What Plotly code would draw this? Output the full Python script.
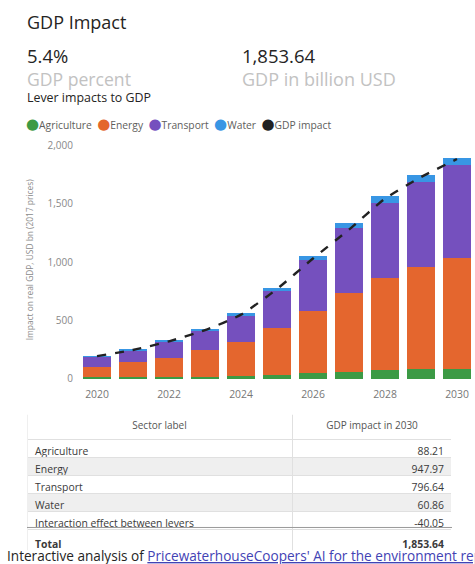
import plotly.graph_objects as go

# ---------------- data ----------------
years = [2020, 2021, 2022, 2023, 2024, 2025, 2026, 2027, 2028, 2029, 2030]
agriculture = [14, 16, 18, 20, 23, 32, 52, 62, 73, 82, 88.21]
energy = [92, 132, 165, 228, 292, 401, 528, 672, 790, 880, 947.97]
transport = [86, 98, 138, 168, 225, 324, 435, 557, 648, 723, 796.64]
water = [5, 10, 11, 14, 22, 25, 38, 42, 55, 60, 60.86]
gdp_impact = [195, 248, 322, 418, 551, 771, 1032, 1280, 1545, 1730, 1885]

kpi_percent = "5.4%"
kpi_total = 1853.64

table_sectors = ["Agriculture", "Energy", "Transport", "Water",
                 "Interaction effect between levers", "Total"]
table_values = [88.21, 947.97, 796.64, 60.86, -40.05, 1853.64]

# ---------------- style ----------------
W, H = 475, 564
FONT = "Open Sans, Noto Sans, DejaVu Sans, sans-serif"
C_AGR, C_ENE, C_TRA, C_WAT, C_GDP = "#3C9A45", "#E4662E", "#7550BE", "#3896E4", "#222222"


def px(x):
    return x / W


def py(y):
    return 1 - y / H


fig = go.Figure()
for name, vals, col in [("Agriculture", agriculture, C_AGR),
                        ("Energy", energy, C_ENE),
                        ("Transport", transport, C_TRA),
                        ("Water", water, C_WAT)]:
    fig.add_trace(go.Bar(x=years, y=vals, name=name, marker=dict(color=col, line=dict(width=0)),
                         width=0.8, showlegend=False))

fig.add_trace(go.Scatter(x=years, y=gdp_impact, name="GDP impact", mode="lines",
                         line=dict(color=C_GDP, width=2.4, dash="dash", shape="spline", smoothing=0.6),
                         showlegend=False))

# table
TOP, HEAD_H, ROW_H = 418, 26, 18
fills = ["#ffffff", "#efefef", "#ffffff", "#efefef", "#ffffff", "#ffffff"]
labels = [f"<b>{s}</b>" if s == "Total" else s for s in table_sectors]
vals_txt = [f"<b>{v:,.2f}</b>" if s == "Total" else f"{v:,.2f}" for s, v in zip(table_sectors, table_values)]
fig.add_trace(go.Table(
    domain=dict(x=[px(27), px(452)], y=[py(TOP + HEAD_H + ROW_H * 6 + 6), py(TOP)]),
    columnwidth=[265, 160],
    header=dict(values=["Sector label", "GDP impact in 2030"], height=HEAD_H,
                align="center", fill=dict(color="#ffffff"),
                line=dict(color="#e0e0e0", width=1),
                font=dict(family=FONT, size=10, color="#555555")),
    cells=dict(values=[labels, vals_txt], height=ROW_H,
               align=["left", "right"],
               fill=dict(color=[fills, fills]),
               line=dict(color="#e0e0e0", width=1),
               font=dict(family=FONT, size=10.4, color="#3a3a3a")),
))

shapes = [
    # hide the outer frame of the table (reference shows only inner rules)
    dict(type="line", xref="paper", yref="paper", x0=px(26), x1=px(26), y0=py(TOP - 2), y1=py(562),
         line=dict(color="#ffffff", width=3), layer="above"),
    dict(type="line", xref="paper", yref="paper", x0=px(452.5), x1=px(452.5), y0=py(TOP - 2), y1=py(562),
         line=dict(color="#ffffff", width=3), layer="above"),
    dict(type="line", xref="paper", yref="paper", x0=px(24), x1=px(455), y0=py(TOP), y1=py(TOP),
         line=dict(color="#ffffff", width=3), layer="above"),
    # darker rule above the Total row
    dict(type="line", xref="paper", yref="paper", x0=px(27), x1=px(452),
         y0=py(TOP + HEAD_H + ROW_H * 5), y1=py(TOP + HEAD_H + ROW_H * 5),
         line=dict(color="#9a9a9a", width=1), layer="above"),
]

ann = []


def text(x, y, s, size, color, anchor="left", yanchor="middle", **kw):
    ann.append(dict(x=px(x), y=py(y), xref="paper", yref="paper", text=s, showarrow=False,
                    xanchor=anchor, yanchor=yanchor, borderpad=0,
                    font=dict(family=FONT, size=size, color=color), **kw))


text(26, 20, "GDP Impact", 18, "#252423")
text(26, 54, kpi_percent, 18.5, "#252423")
text(241, 54, f"{kpi_total:,.2f}", 18.5, "#252423")
text(26, 78, "GDP percent", 17.6, "#c2c2c2")
text(241, 78, "GDP in billion USD", 18, "#c2c2c2")
text(26, 97, "Lever impacts to GDP", 12.4, "#252423")

dot = '<span style="color:{c};font-size:15px">●</span>'
legend_txt = "".join(dot.format(c=c) + n + "  " for n, c in
                     [("Agriculture", C_AGR), ("Energy", C_ENE), ("Transport", C_TRA),
                      ("Water", C_WAT), ("GDP impact", C_GDP)])
text(25, 123, legend_txt.strip(), 10.3, "#605e5c")

ann.append(dict(x=px(29), y=(py(140) + py(383)) / 2, xref="paper", yref="paper",
                text="Impact on real GDP, USD bn (2017 prices)", textangle=-90, showarrow=False,
                xanchor="center", yanchor="middle", font=dict(family=FONT, size=8.4, color="#8a8a8a")))

text(6, 564, 'Interactive analysis of <span style="color:#4242b4;text-decoration:underline">'
             "PricewaterhouseCoopers' AI for the environment report</span>", 13.6, "#252423",
     yanchor="bottom", yshift=-9)

fig.update_layout(
    width=W, height=H, margin=dict(l=0, r=0, t=0, b=0),
    paper_bgcolor="#ffffff", plot_bgcolor="#ffffff",
    barmode="stack", bargap=0.2,
    font=dict(family=FONT),
    annotations=ann, shapes=shapes,
    xaxis=dict(domain=[px(79), 1], range=[2019.5, 2030.5], tick0=2020, dtick=2,
               showgrid=False, zeroline=False, showline=False, ticks="",
               ticklabelstandoff=8,
               tickfont=dict(size=10.4, color="#777777")),
    yaxis=dict(domain=[py(383), py(140)], range=[0, 2050], dtick=500, tickformat=",",
               showgrid=False, zeroline=False, showline=False, ticks="",
               ticklabelstandoff=5,
               tickfont=dict(size=10, color="#888888")),
)

fig.write_html("out.html")
